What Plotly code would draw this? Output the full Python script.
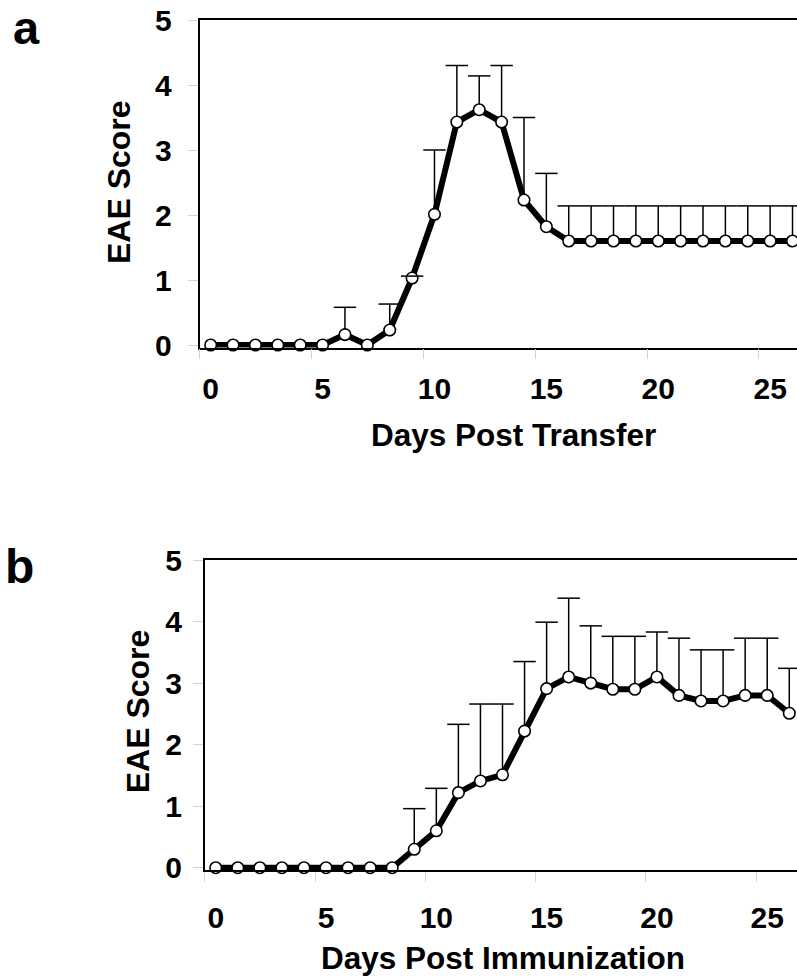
import plotly.graph_objects as go

# ---------------- data ----------------
days = list(range(27))

# Panel a: adoptive transfer
a_mean = [0, 0, 0, 0, 0, 0, 0.16, 0, 0.23, 1.03, 2.01, 3.43, 3.62, 3.43, 2.23, 1.82,
          1.6, 1.6, 1.6, 1.6, 1.6, 1.6, 1.6, 1.6, 1.6, 1.6, 1.6]
a_err = [0, 0, 0, 0, 0, 0, 0.42, 0, 0.40, 0.03, 0.99, 0.87, 0.52, 0.87, 1.27, 0.82,
         0.54, 0.54, 0.54, 0.54, 0.54, 0.54, 0.54, 0.54, 0.54, 0.54, 0.54]

# Panel b: active immunization
b_mean = [0, 0, 0, 0, 0, 0, 0, 0, 0, 0.3, 0.6, 1.22, 1.41, 1.51, 2.22, 2.91, 3.1,
          3.0, 2.9, 2.9, 3.1, 2.8, 2.71, 2.71, 2.8, 2.8, 2.51]
b_err = [0, 0, 0, 0, 0, 0, 0, 0, 0, 0.66, 0.69, 1.11, 1.25, 1.15, 1.13, 1.08, 1.28,
         0.93, 0.86, 0.86, 0.73, 0.93, 0.83, 0.83, 0.93, 0.93, 0.73]

x_ticks = [0, 5, 10, 15, 20, 25]
x_bounds = [-0.5, 4.5, 9.5, 14.5, 19.5, 24.5]
y_ticks = [0, 1, 2, 3, 4, 5]

FONT = "Liberation Sans, Arial, sans-serif"
W, H = 797, 977


def caps(mean, err):
    return [m + e if e > 0 else None for m, e in zip(mean, err)]


fig = go.Figure()

for mean, err, xa, ya in [(a_mean, a_err, "x", "y"), (b_mean, b_err, "x2", "y2")]:
    fig.add_trace(go.Scatter(
        x=days, y=mean, xaxis=xa, yaxis=ya, mode="lines+markers",
        line=dict(color="black", width=6),
        marker=dict(size=11.5, color="white", line=dict(color="black", width=1.6)),
        error_y=dict(type="data", symmetric=False, array=err,
                     arrayminus=[0] * len(err), width=0, thickness=1.5,
                     color="black"),
        cliponaxis=False, showlegend=False, hoverinfo="skip"))
    fig.add_trace(go.Scatter(
        x=days, y=caps(mean, err), xaxis=xa, yaxis=ya, mode="markers",
        marker=dict(symbol="line-ew", size=16, color="black",
                    line=dict(color="black", width=1.5)),
        cliponaxis=False, showlegend=False, hoverinfo="skip"))


def xaxis(domain, rng, standoff, anchor):
    return dict(
        domain=domain, range=rng, anchor=anchor, automargin=False,
        tickmode="array", tickvals=x_ticks, ticks="",
        ticklabelstandoff=standoff,
        minor=dict(tickmode="array", tickvals=x_bounds, ticks="outside",
                   ticklen=10, tickwidth=1, tickcolor="#d4d4d4"),
        showline=True, linecolor="black", linewidth=1.5, mirror=True,
        showgrid=False, zeroline=False,
        tickfont=dict(family=FONT, size=30, color="black", weight="bold"))


def yaxis(domain, standoff, anchor):
    return dict(
        domain=domain, range=[-0.04, 5], anchor=anchor, automargin=False,
        tickmode="array", tickvals=y_ticks, ticks="outside", ticklen=10,
        tickwidth=1, tickcolor="#d4d4d4", ticklabelstandoff=standoff,
        showline=True, linecolor="black", linewidth=1.5, mirror=False,
        showgrid=False, zeroline=False,
        tickfont=dict(family=FONT, size=30, color="black", weight="bold"))


def px(x):
    return x / W


def py(y):
    return 1 - y / H


fig.update_layout(
    template="none",
    width=W, height=H,
    margin=dict(l=0, r=0, t=0, b=0, pad=0, autoexpand=False),
    paper_bgcolor="white", plot_bgcolor="white",
    xaxis=xaxis([px(199.5), 1], [-0.5, 26.2], 14, "y"),
    yaxis=yaxis([py(347.6), py(20)], 10, "x"),
    xaxis2=xaxis([px(204.7), 1], [-0.5, 26.35], 20, "y2"),
    yaxis2=yaxis([py(870.2), py(560)], 5, "x2"),
)

ann_font = dict(family=FONT, color="black", weight="bold")
annotations = [
    dict(text="a", x=px(26.5), y=1.0, size=47, yanchor="top"),
    dict(text="b", x=px(19), y=py(566.4), size=48),
    dict(text="EAE Score", x=px(118.5), y=py(182.5), size=32, angle=-90),
    dict(text="EAE Score", x=px(138), y=py(711.3), size=32, angle=-90),
    dict(text="Days Post Transfer", x=px(513), y=py(435), size=31.5),
    dict(text="Days Post Immunization", x=px(503.2), y=py(957.5), size=31.5),
]
for a in annotations:
    fig.add_annotation(
        text=a["text"], x=a["x"], y=a["y"], xref="paper", yref="paper",
        xanchor="center", yanchor=a.get("yanchor", "middle"), showarrow=False,
        textangle=a.get("angle", 0), borderpad=0,
        font=dict(size=a["size"], **ann_font))

fig.write_html("out.html")
